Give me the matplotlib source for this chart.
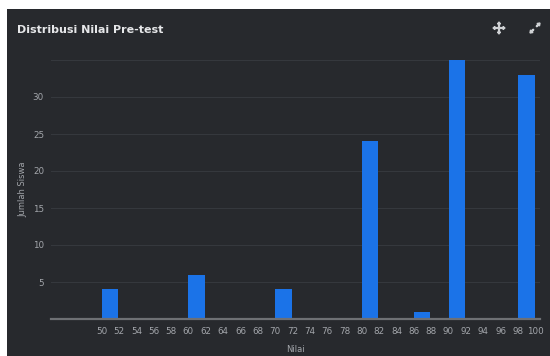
import matplotlib
matplotlib.use("Agg")
import matplotlib.pyplot as plt
from matplotlib.patches import Rectangle, FancyArrow

# Data
nilai = [50, 60, 70, 80, 86, 90, 98]
jumlah = [4, 6, 4, 24, 1, 35, 33]
x_ticks = list(range(50, 101, 2))
y_ticks = [5, 10, 15, 20, 25, 30]
title = "Distribusi Nilai Pre-test"
xlabel = "Nilai"
ylabel = "Jumlah Siswa"

BG = "#27292d"
GRID = "#35383d"
TXT = "#a3a6ab"
BAR = "#1b73e8"

fig = plt.figure(figsize=(5.5, 3.56), dpi=100)
fig.patch.set_facecolor("white")
fig.patches.append(Rectangle((7 / 550, 0), 1 - 7 / 550, 1 - 9 / 356,
                             transform=fig.transFigure, facecolor=BG,
                             edgecolor="none", zorder=-10))

ax = fig.add_axes([51 / 550, 37 / 356, 489 / 550, 259 / 356])
ax.set_facecolor(BG)
ax.patch.set_alpha(0)

ax.bar(nilai, jumlah, width=1.92, align="edge", color=BAR, zorder=3)

ax.set_xlim(44.15, 100.55)
ax.set_ylim(0, 35)
ax.set_xticks(x_ticks)
ax.set_xticklabels([str(v) for v in x_ticks], fontsize=6.3, color=TXT)
ax.set_yticks(y_ticks)
ax.set_yticklabels([str(v) for v in y_ticks], fontsize=6.3, color=TXT)
ax.tick_params(axis="x", length=0, pad=6)
ax.tick_params(axis="y", length=0, pad=5)
for v in y_ticks + [35]:
    ax.axhline(v, color=GRID, lw=0.8, zorder=1)
for s in ["top", "right", "left"]:
    ax.spines[s].set_visible(False)
ax.spines["bottom"].set_color("#6e7074")
ax.spines["bottom"].set_linewidth(1.6)
ax.spines["bottom"].set_zorder(4)

ax.set_xlabel(xlabel, fontsize=6, color=TXT, labelpad=6)
ax.set_ylabel(ylabel, fontsize=6, color=TXT, labelpad=4)

fig.text(17 / 550, 1 - 30 / 356, title, fontsize=8, fontweight="bold",
         color="#e6e7e9", va="center", ha="left")

# move icon
cx, cy = 499, 356 - 28
icol = "#cfd1d4"
for dx, dy in [(1, 0), (-1, 0), (0, 1), (0, -1)]:
    fig.patches.append(FancyArrow(cx, cy, dx * 6, dy * 6, width=0.8,
                                  head_width=3, head_length=2,
                                  length_includes_head=True,
                                  transform=None, color=icol, zorder=5))
# expand icon
ex, ey = 535, 356 - 28
fig.patches.append(FancyArrow(ex + 1.5, ey + 1.5, 3.5, 3.5, width=0.8,
                              head_width=3.5, head_length=2.5,
                              length_includes_head=True,
                              transform=None, color=icol, zorder=5))
fig.patches.append(FancyArrow(ex - 1.5, ey - 1.5, -3.5, -3.5, width=0.8,
                              head_width=3.5, head_length=2.5,
                              length_includes_head=True,
                              transform=None, color=icol, zorder=5))

fig.savefig("out.png", dpi=100, facecolor=fig.get_facecolor())
